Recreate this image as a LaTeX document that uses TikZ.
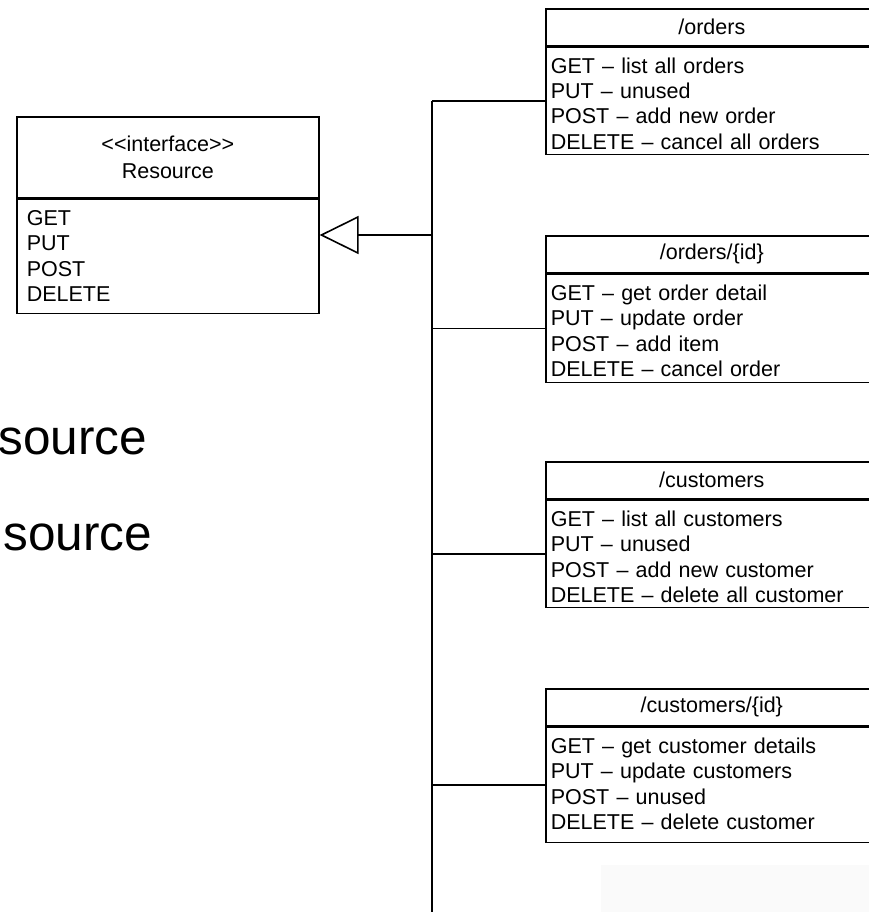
\documentclass[tikz,border=0pt]{standalone}
\usepackage{fontspec}
\setmainfont{Liberation Sans}
\usepackage{xcolor}
\usepackage{tikz}
\usetikzlibrary{arrows.meta}
\usetikzlibrary{positioning}

\definecolor{paper}{HTML}{FAFAFA}
\newcommand{\umlfont}{\fontsize{21.5}{25.3}\selectfont}

\begin{document}
\begin{tikzpicture}[
    x=1pt, y=-1pt,
    line width=1.6pt,
    classhead/.style={draw, inner sep=0pt, minimum height=37pt, font=\umlfont},
    classops/.style={draw, inner xsep=5pt, inner ysep=0pt, align=left,
      text height=26pt, font=\umlfont},
    inherits/.style={-{Triangle[open, length=39pt, width=38pt]}},
    cut/.style={inner sep=0pt, anchor=base east, font=\fontsize{49.5}{60}\selectfont}]

    \useasboundingbox (0, 0) rectangle (869, 912);
    \clip (0, 0) rectangle (869, 912);

    \fill [paper] (601, 865) rectangle (869, 912);

    \node [cut] (single) at (148, 454) {source};
    \node [cut] (collection) at (153, 550) {source};

    % interface
    \node [classhead, anchor=north west, minimum width=302pt, minimum height=81pt,
      align=center, font=\fontsize{21.5}{27}\selectfont] (resource) at (16, 116)
      {<\kern0pt<interface>\kern0pt>\\Resource};
    \node [classops, below=0pt of resource, text width=282pt, inner xsep=10pt,
      text depth=88pt] (resource-ops) {GET\\PUT\\POST\\DELETE};

    % resources
    \node [classhead, anchor=north west, minimum width=332pt] (orders) at (545, 8) {/orders};
    \node [classops, below=0pt of orders, text width=322pt, text depth=81pt] (orders-ops)
      {GET -- list all orders\\PUT -- unused\\POST -- add new order\\DELETE -- cancel all orders};

    \node [classhead, anchor=north west, minimum width=332pt] (order) at (545, 235) {/orders/\{id\}};
    \node [classops, below=0pt of order, text width=322pt, text depth=82pt] (order-ops)
      {GET -- get order detail\\PUT -- update order\\POST -- add item\\DELETE -- cancel order};

    \node [classhead, anchor=north west, minimum width=332pt] (customers) at (545, 461) {/customers};
    \node [classops, below=0pt of customers, text width=322pt, text depth=81pt] (customers-ops)
      {GET -- list all customers\\PUT -- unused\\POST -- add new customer\\DELETE -- delete all customer};

    \node [classhead, anchor=north west, minimum width=332pt] (customer) at (545, 688) {/customers/\{id\}};
    \node [classops, below=0pt of customer, text width=322pt, text depth=89pt] (customer-ops)
      {GET -- get customer details\\PUT -- update customers\\POST -- unused\\DELETE -- delete customer};

    % spine
    \coordinate (hub) at (432, 235);
    \coordinate (foot) at (432, 920);
    \draw (hub |- orders-ops.west) -- (foot);
    \foreach \cls in {orders, order, customers, customer}
      \draw (hub |- \cls-ops.west) -- (\cls-ops.west);
    \draw [inherits] (hub) -- (hub -| resource-ops.east);

  \end{tikzpicture}
\end{document}
